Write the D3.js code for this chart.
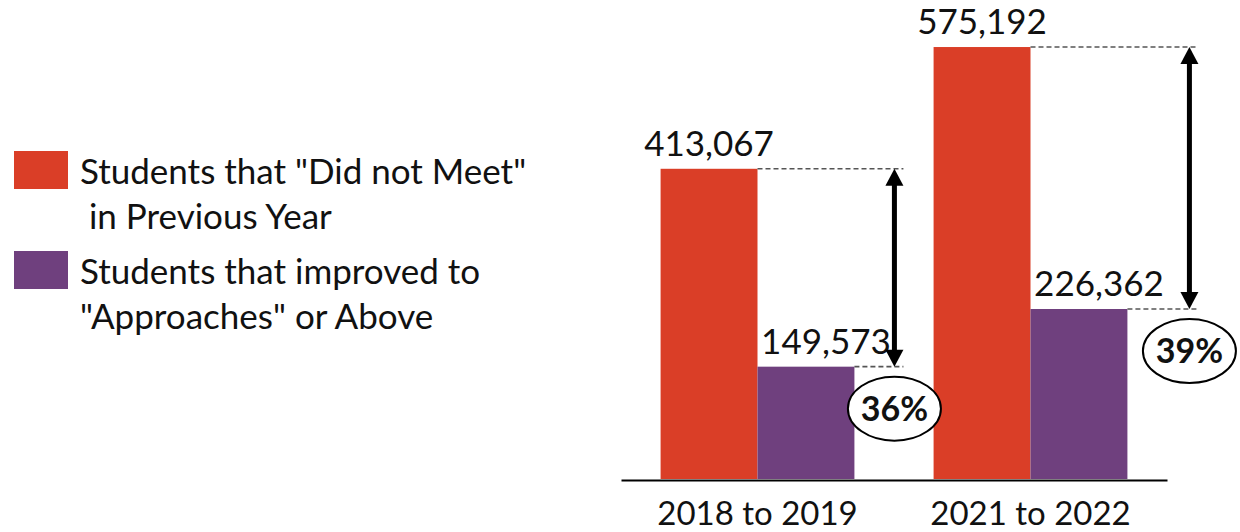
<!DOCTYPE html>
<html>
<head>
<meta charset="utf-8">
<script src="https://cdn.jsdelivr.net/npm/d3@7"></script>
<style>
  html, body { margin: 0; padding: 0; background: #fff; }
  svg { display: block; font-family: Lato, "Open Sans", sans-serif; }
</style>
</head>
<body>
<svg id="chart" width="1240" height="532"></svg>
<script>
// Period categories and the two series shown for each
const periods = ["2018 to 2019", "2021 to 2022"];
const didNotMeet = [413067, 575192];
const improved = [149573, 226362];
const seriesNames = [
  ["Students that \"Did not Meet\"", " in Previous Year"],
  ["Students that improved to", "\"Approaches\" or Above"]
];
const seriesColors = ["#DA3E27", "#6F407E"];

const svg = d3.select("#chart");
const baseY = 479;

const x = d3.scaleBand().domain(periods).range([621, 1167])
  .paddingInner(0.29).paddingOuter(0.145);
const sub = d3.scaleBand().domain([0, 1]).range([0, x.bandwidth()]);
const y = d3.scaleLinear().domain([0, 600000]).range([baseY, baseY - 450.6]);

const fmt = d3.format(",");
const rows = periods.map((p, i) => ({ p, vals: [didNotMeet[i], improved[i]] }));

// bars with value labels
const g = svg.append("g");
rows.forEach(r => {
  r.vals.forEach((v, s) => {
    g.append("rect")
      .attr("x", x(r.p) + sub(s))
      .attr("y", y(v))
      .attr("width", sub.bandwidth())
      .attr("height", baseY - y(v))
      .attr("fill", seriesColors[s]);
    g.append("text")
      .attr("x", x(r.p) + sub(s) + sub.bandwidth() / 2 + (s === 1 ? 20 : 0))
      .attr("y", y(v) - 13)
      .attr("text-anchor", "middle")
      .attr("font-size", 35)
      .attr("fill", "#111")
      .text(fmt(v));
  });
});

// category axis
const axis = svg.append("g").attr("transform", `translate(0,${baseY + 1})`)
  .call(d3.axisBottom(x).tickSize(0).tickPadding(22));
axis.select(".domain").attr("stroke", "#000").attr("stroke-width", 2);
axis.selectAll("text").attr("font-size", 33).attr("font-family", "Lato, sans-serif")
  .attr("fill", "#111").attr("dy", "0.71em");

// drop annotations: dashed guides, double arrow and percentage bubble
const arrowOffsets = [40, 62];
rows.forEach((r, i) => {
  const right = x(r.p) + x.bandwidth();
  const ax = right + arrowOffsets[i];
  const yTop = y(r.vals[0]);
  const yBot = y(r.vals[1]);
  const guideEnd = ax + 9;
  svg.append("line")
    .attr("x1", x(r.p) + sub(1)).attr("x2", guideEnd)
    .attr("y1", yTop).attr("y2", yTop)
    .attr("stroke", "#555").attr("stroke-width", 1.6).attr("stroke-dasharray", "5,3");
  svg.append("line")
    .attr("x1", right).attr("x2", guideEnd)
    .attr("y1", yBot).attr("y2", yBot)
    .attr("stroke", "#555").attr("stroke-width", 1.6).attr("stroke-dasharray", "5,3");

  const head = 17, hw = 9;
  svg.append("line")
    .attr("x1", ax).attr("x2", ax)
    .attr("y1", yTop + head - 1).attr("y2", yBot - head + 1)
    .attr("stroke", "#000").attr("stroke-width", 5);
  svg.append("path")
    .attr("d", `M${ax},${yTop} L${ax + hw},${yTop + head} L${ax - hw},${yTop + head} Z`)
    .attr("fill", "#000");
  svg.append("path")
    .attr("d", `M${ax},${yBot} L${ax + hw},${yBot - head} L${ax - hw},${yBot - head} Z`)
    .attr("fill", "#000");

  const cy = yBot + 42;
  svg.append("ellipse")
    .attr("cx", ax).attr("cy", cy).attr("rx", 46.5).attr("ry", 32)
    .attr("fill", "#fff").attr("stroke", "#000").attr("stroke-width", 2);
  svg.append("text")
    .attr("x", ax).attr("y", cy + 12)
    .attr("text-anchor", "middle")
    .attr("font-size", 34).attr("font-weight", "bold").attr("fill", "#111")
    .text(d3.format(".0%")(r.vals[1] / r.vals[0]));
});

// legend
const legend = svg.append("g");
seriesNames.forEach((lines, s) => {
  const top = 151 + s * 100;
  legend.append("rect")
    .attr("x", 14).attr("y", top).attr("width", 54).attr("height", 38)
    .attr("fill", seriesColors[s]);
  lines.forEach((t, k) => {
    legend.append("text")
      .attr("x", 80).attr("y", top + 33 + k * 45)
      .attr("font-size", 35).attr("fill", "#111")
      .attr("xml:space", "preserve")
      .style("white-space", "pre")
      .text(t);
  });
});
</script>
</body>
</html>
